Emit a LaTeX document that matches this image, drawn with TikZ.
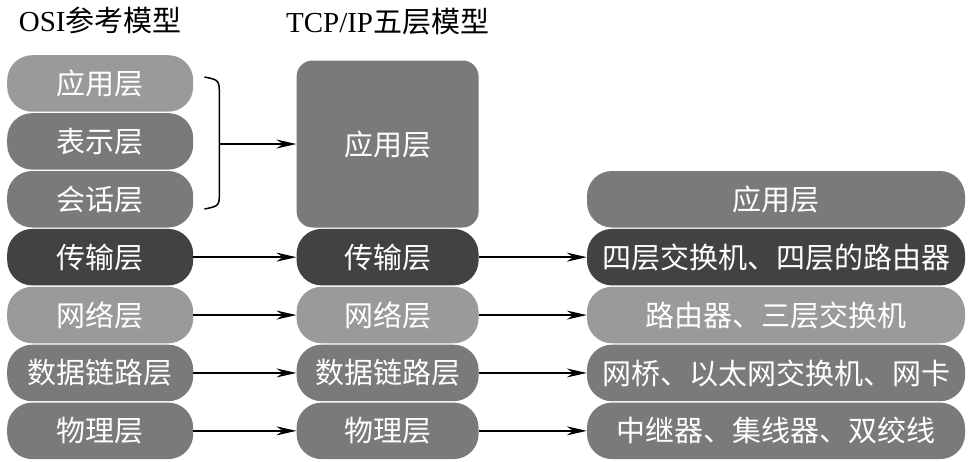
\documentclass[tikz,border=0pt]{standalone}
\usepackage{fontspec}
\setmainfont{Liberation Serif}
\newfontfamily\cjk{Noto Sans CJK SC}
\usetikzlibrary{positioning,arrows.meta}
\definecolor{lightlayer}{HTML}{9A9A9A}
\definecolor{midlayer}{HTML}{7A7A7A}
\definecolor{darklayer}{HTML}{424242}
\tikzset{
  layer/.style = {rounded corners=25pt, minimum height=56.5pt, inner sep=0pt, text=white, font=\cjk\fontsize{29}{30}\selectfont, align=center},
  osinode/.style = {layer, minimum width=186pt},
  tcpnode/.style = {layer, minimum width=182pt},
  devnode/.style = {layer, minimum width=378pt},
  title/.style = {font=\fontsize{29}{30}\selectfont, inner sep=0pt},
  link/.style = {-{Stealth[length=20pt,width=9pt]}, line width=1.5pt}
}
\begin{document}
\begin{tikzpicture}[x=1pt, y=-1pt, node distance=1pt]
\useasboundingbox (0,0) rectangle (968,461);
\node [osinode, fill=lightlayer, anchor=north west] (osiapp) at (7,55) {应用层};
\node [osinode, fill=midlayer, below=of osiapp] (osipre) {表示层};
\node [osinode, fill=midlayer, below=of osipre] (osises) {会话层};
\node [osinode, fill=darklayer, below=of osises] (ositrans) {传输层};
\node [osinode, fill=lightlayer, below=of ositrans] (osinet) {网络层};
\node [osinode, fill=midlayer, below=of osinet] (osilink) {数据链路层};
\node [osinode, fill=midlayer, below=of osilink] (osiphy) {物理层};
\node [title, above=21pt of osiapp] {OSI{\cjk 参考模型}};

\node [tcpnode, fill=darklayer, right=103pt of ositrans] (tcptrans) {传输层};
\node [tcpnode, fill=midlayer, rounded corners=16pt, minimum height=167pt, above=of tcptrans] (tcpapp) {应用层};
\node [tcpnode, fill=lightlayer, right=103pt of osinet] (tcpnet) {网络层};
\node [tcpnode, fill=midlayer, right=103pt of osilink] (tcplink) {数据链路层};
\node [tcpnode, fill=midlayer, right=103pt of osiphy] (tcpphy) {物理层};
\node [title, above=25pt of tcpapp] {TCP/IP{\cjk 五层模型}};

\node [devnode, fill=darklayer, right=108pt of tcptrans] (devtrans) {四层交换机、四层的路由器};
\node [devnode, fill=midlayer, above=of devtrans] (devapp) {应用层};
\node [devnode, fill=lightlayer, right=108pt of tcpnet] (devnet) {路由器、三层交换机};
\node [devnode, fill=midlayer, right=108pt of tcplink] (devlink) {网桥、以太网交换机、网卡};
\node [devnode, fill=midlayer, right=108pt of tcpphy] (devphy) {中继器、集线器、双绞线};

\path (tcpapp.west) ++(-77,0) coordinate (bracetip);
\draw [line width=1.5pt] (bracetip) ++(-15,-67) .. controls ++(15,3) .. ++(15,20) -- ++(0,94) .. controls ++(0,15) .. ++(-15,18);
\draw [link] (bracetip) -- (tcpapp.west);
\foreach \a/\b in {ositrans/tcptrans, osinet/tcpnet, osilink/tcplink, osiphy/tcpphy, tcptrans/devtrans, tcpnet/devnet, tcplink/devlink, tcpphy/devphy}
  \draw [link] (\a.east) -- (\b.west);
\end{tikzpicture}
\end{document}
